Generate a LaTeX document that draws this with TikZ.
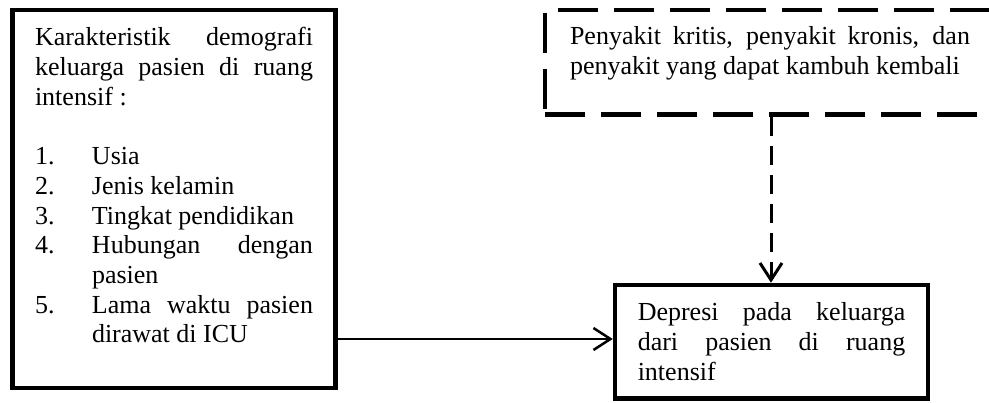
\documentclass[tikz,border=0pt]{standalone}
\usepackage{fontspec}
\setmainfont{Liberation Serif}
\usetikzlibrary{arrows.meta}
\newcommand{\kitem}[2]{\par\hangindent=57pt\hangafter=1\noindent\makebox[57pt][l]{#1}#2\par}
\begin{document}
\begin{tikzpicture}[x=1pt,y=-1pt,
  box/.style={draw, line width=4.5pt, rectangle, inner ysep=0pt, align=justify,
    anchor=north west, font=\fontsize{26pt}{29.7pt}\selectfont},
  arr/.style={line width=2.5pt, -{Straight Barb[length=17pt,width=22pt]}}]
\useasboundingbox[fill=white] (0,0) rectangle (989,403);
\node[box, text width=278pt, inner xsep=22.5pt] (demo) at (10.25,7.75)
  {\rule{0pt}{36pt}Karakteristik demografi\linebreak keluarga pasien di ruang\linebreak intensif :\par
   \vspace{29.7pt}%
   \kitem{1.}{Usia}%
   \kitem{2.}{Jenis kelamin}%
   \kitem{3.}{Tingkat pendidikan}%
   \kitem{4.}{Hubungan dengan\linebreak pasien}%
   \kitem{5.}{Lama waktu pasien\linebreak dirawat di ICU\rule[-45pt]{0pt}{45pt}}};
\node[box, text width=267.5pt, inner xsep=22.75pt] (dep) at (612.75,282.75)
  {\rule{0pt}{36pt}Depresi pada keluarga\linebreak dari pasien di ruang\linebreak intensif\rule[-18pt]{0pt}{18pt}};
\node[box, dash pattern=on 40pt off 16pt, text width=400pt, inner xsep=25pt] (pen) at (542.75,7.75)
  {\rule{0pt}{35pt}Penyakit kritis, penyakit kronis, dan\linebreak penyakit yang dapat kambuh kembali\rule[-40pt]{0pt}{40pt}};
\coordinate (ay) at (0,339);
\coordinate (vx) at (771,0);
\draw[arr] (demo.east |- ay) -- (dep.west |- ay);
\draw[arr, line width=3pt, dash pattern=on 19pt off 10pt] (pen.south -| vx) -- (dep.north -| vx);
\end{tikzpicture}
\end{document}
